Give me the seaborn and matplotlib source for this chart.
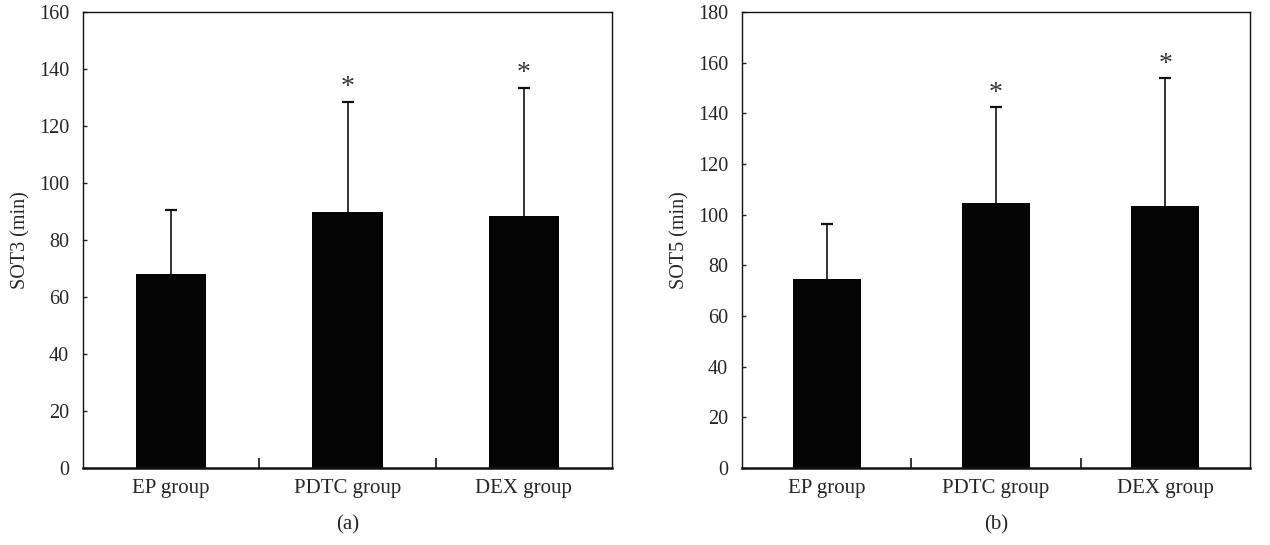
import matplotlib
matplotlib.use("Agg")
import matplotlib.pyplot as plt
import seaborn as sns
import pandas as pd
import numpy as np

groups = ["EP group", "PDTC group", "DEX group"]
sot3_mean = [68.0, 90.0, 88.5]
sot3_upper = [90.5, 128.5, 133.5]
sot5_mean = [74.5, 104.5, 103.5]
sot5_upper = [96.5, 142.5, 154.0]
sig = ["", "*", "*"]

sns.set_theme(style="white")
plt.rcParams['font.family'] = ['Liberation Serif', 'DejaVu Serif']
plt.rcParams['text.color'] = '#222222'

fig = plt.figure(figsize=(12.7, 5.45), dpi=100)
ax1 = fig.add_axes([83/1270, 1-468/545, 529/1270, 456/545])
ax2 = fig.add_axes([742/1270, 1-468/545, 508/1270, 456/545])

def panel(ax, means, uppers, ylabel, ymax, caption):
    df = pd.DataFrame({"group": groups, "value": means})
    sns.barplot(data=df, x="group", y="value", color="#050505", width=0.4,
                saturation=1, ax=ax, errorbar=None, edgecolor="none", zorder=2)
    x = np.arange(len(groups))
    err = np.array(uppers) - np.array(means)
    cont = ax.errorbar(x, means, yerr=[np.zeros_like(err), err], fmt="none",
                       ecolor="#111111", elinewidth=1.2, capsize=4, capthick=1.6, zorder=1)
    for cl in cont[1]:
        yd = np.asarray(cl.get_ydata(), dtype=float)
        if np.allclose(yd, means):
            cl.set_visible(False)
    for xi, u, s in zip(x, uppers, sig):
        if s:
            ax.text(xi, u + 0.5, s, ha="center", va="bottom", fontsize=20, color="#333333")
    ax.set_xlim(-0.5, 2.5)
    ax.set_ylim(0, ymax)
    ax.set_yticks(np.arange(0, ymax + 1, 20))
    ax.set_xticks([0.5, 1.5], minor=True)
    ax.set_xticks(x)
    ax.set_xticklabels(groups, fontsize=15)
    ax.tick_params(axis="x", which="major", length=0, pad=8)
    ax.tick_params(axis="x", which="minor", bottom=True, direction="in", length=7,
                   width=1.2, color="#111111")
    ax.tick_params(axis="y", direction="in", length=3, width=1, labelsize=14.5, pad=10, left=True)
    for sp in ax.spines.values():
        sp.set_color("#111111")
        sp.set_linewidth(1.0)
    ax.spines["bottom"].set_linewidth(1.8)
    ax.set_xlabel(caption, fontsize=15, labelpad=12)
    ax.set_ylabel(ylabel, fontsize=14.5, labelpad=6)

panel(ax1, sot3_mean, sot3_upper, "SOT3 (min)", 160, "(a)")
panel(ax2, sot5_mean, sot5_upper, "SOT5 (min)", 180, "(b)")

fig.savefig("out.png", dpi=100, facecolor="white")
